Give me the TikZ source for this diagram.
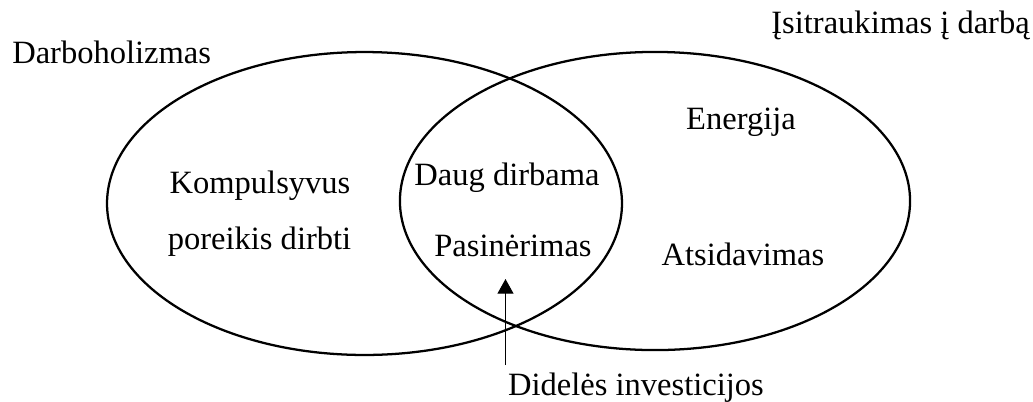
\documentclass[tikz,border=0pt]{standalone}
\usepackage{fontspec}
\setmainfont{Liberation Serif}
\usepackage{tikz}
\usetikzlibrary{calc, positioning, arrows.meta}
\tikzstyle{lbl}=[inner sep=0pt, anchor=base, font=\fontsize{24.4}{29}\selectfont]
\tikzstyle{ring}=[line width=1.7pt]
\tikzset{>={Triangle[width=12pt, length=11pt]}}

\begin{document}
\begin{tikzpicture}[x=0.75pt, y=-0.75pt]
\useasboundingbox (0,0) rectangle (1033,401);
% the two sets
\draw[ring] (364.5,203.5) ellipse [x radius=193.1pt, y radius=113.6pt];
\draw[ring] (655,201) ellipse [x radius=191.3pt, y radius=111.8pt];
% the set names
\node[lbl, anchor=base west] (D) at (12,63) {Darboholizmas};
\node[lbl, anchor=base east] (I) at (1030,33) {Įsitraukimas į darbą};
% left part
\node[lbl] (K1) at (260,193) {Kompulsyvus};
\node[lbl] (K2) at (259.5,249) {poreikis dirbti};
% the overlap
\node[lbl] (C1) at (507,185) {Daug dirbama};
\node[lbl] (C2) at (513,256) {Pasinėrimas};
% right part
\node[lbl] (R1) at (741,129) {Energija};
\node[lbl] (R2) at (743,265) {Atsidavimas};
% the arrow
\node[lbl] (inv) at (636,395) {Didelės investicijos};
\coordinate (tip) at (505.5,279);
\draw[->, line width=0.8pt] ($(tip |- inv.north)+(0,-7)$) -- (tip);
\end{tikzpicture}
\end{document}
